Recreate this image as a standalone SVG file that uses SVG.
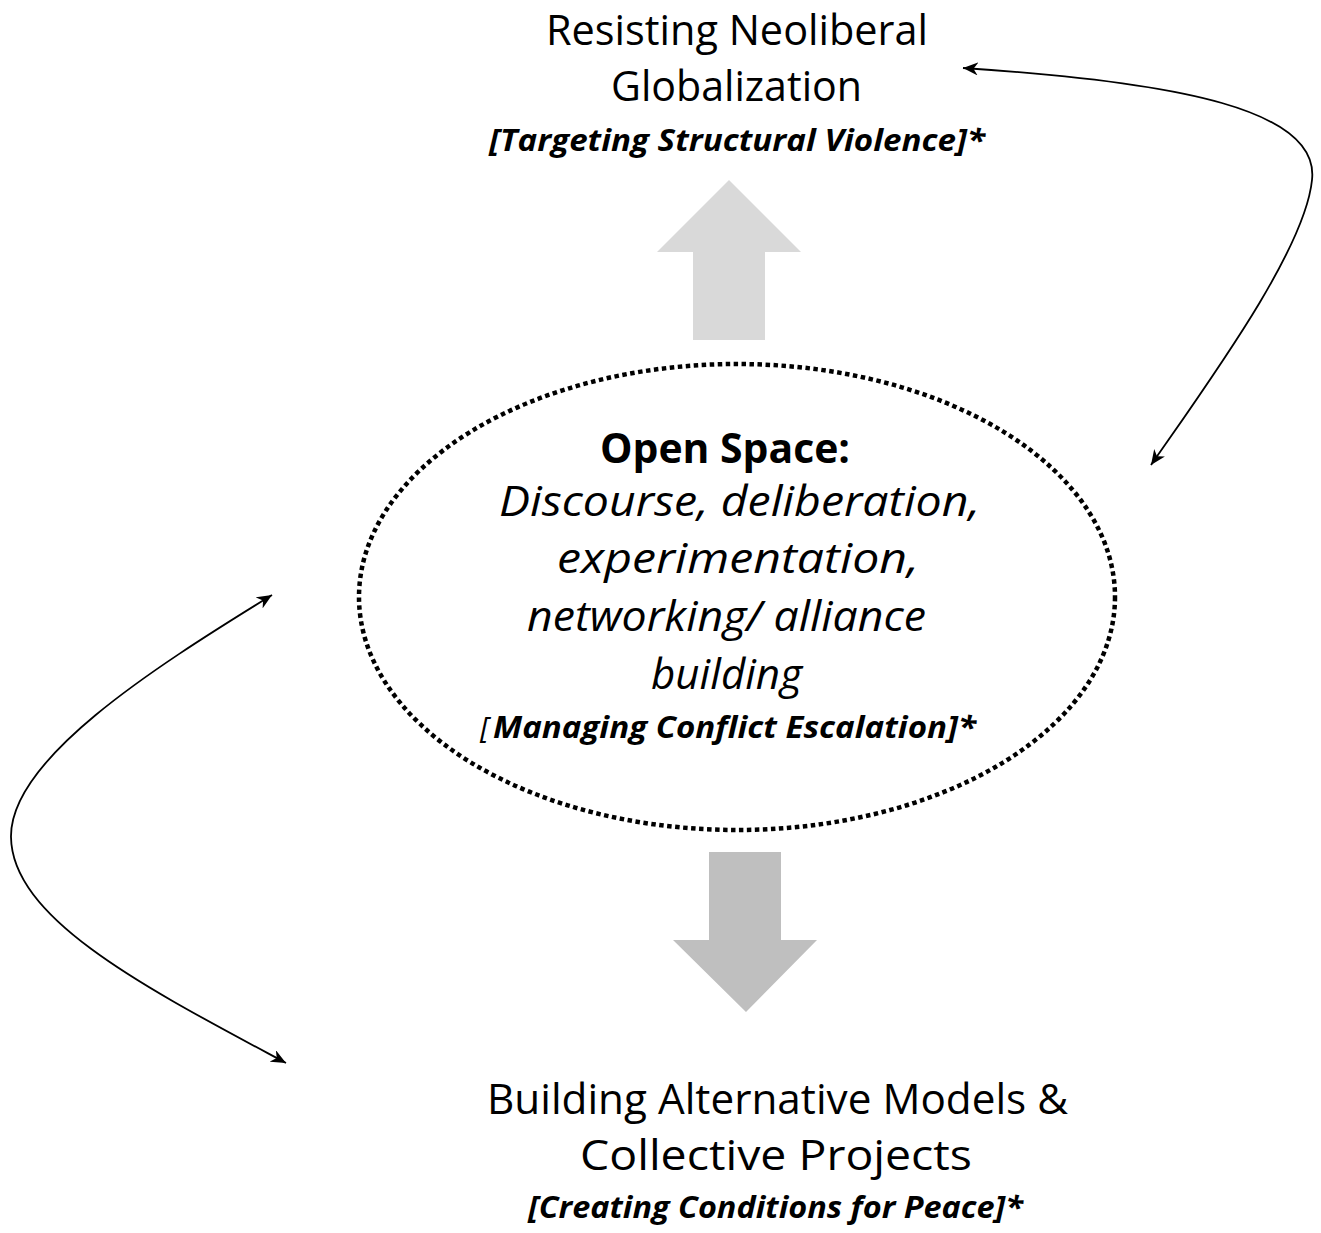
<svg xmlns="http://www.w3.org/2000/svg" width="1321" height="1233" viewBox="0 0 1321 1233">
  <style>
    text { font-family: "Open Sans", "Liberation Sans", sans-serif; fill: #000; }
    .big { font-size: 42px; }
    .it { font-style: italic; }
    .bold { font-weight: bold; }
    .tag { font-size: 30px; font-weight: bold; font-style: italic; }
    .conn { fill: none; stroke: #000; stroke-width: 1.8; }
  </style>
  <defs>
    <marker id="head" viewBox="0 0 15 13" refX="15" refY="6.5" markerWidth="15" markerHeight="13" markerUnits="userSpaceOnUse" orient="auto-start-reverse">
      <path d="M0,0 L15,6.5 L0,13 L4.5,6.5 z" fill="#000"/>
    </marker>
  </defs>

  <rect width="1321" height="1233" fill="#fff"/>

  <!-- top outcome -->
  <g id="node-resisting">
    <text class="big" x="546" y="45" textLength="382" lengthAdjust="spacingAndGlyphs">Resisting Neoliberal</text>
    <text class="big" x="611" y="101" textLength="251" lengthAdjust="spacingAndGlyphs">Globalization</text>
    <text class="tag" x="489" y="151" textLength="496" lengthAdjust="spacingAndGlyphs">[Targeting Structural Violence]*</text>
  </g>

  <!-- upward block arrow -->
  <g id="arrow-up">
    <polygon points="729,180 801,252 765,252 765,340 693,340 693,252 657,252" fill="#d9d9d9"/>
  </g>

  <!-- central open space -->
  <g id="node-open-space">
    <ellipse cx="737" cy="597" rx="378" ry="233" fill="none" stroke="#000" stroke-width="4.5" stroke-dasharray="4.5 3.5"/>
    <text class="big bold" x="600" y="463" textLength="250" lengthAdjust="spacingAndGlyphs">Open Space:</text>
    <text class="big it" x="499" y="516" textLength="481" lengthAdjust="spacingAndGlyphs">Discourse, deliberation,</text>
    <text class="big it" x="557" y="573" textLength="362" lengthAdjust="spacingAndGlyphs">experimentation,</text>
    <text class="big it" x="527" y="631" textLength="399" lengthAdjust="spacingAndGlyphs">networking/ alliance</text>
    <text class="big it" x="651" y="689" textLength="151" lengthAdjust="spacingAndGlyphs">building</text>
    <text y="738" style="font-size:30px"><tspan class="it" x="480">[</tspan><tspan class="tag" x="493" textLength="483" lengthAdjust="spacingAndGlyphs">Managing Conflict Escalation]*</tspan></text>
  </g>

  <!-- downward block arrow -->
  <g id="arrow-down">
    <polygon points="709,852 781,852 781,940 817,940 746,1012 673,940 709,940" fill="#bfbfbf"/>
  </g>

  <!-- bottom outcome -->
  <g id="node-building">
    <text class="big" x="487" y="1114" textLength="581" lengthAdjust="spacingAndGlyphs">Building Alternative Models &amp;</text>
    <text class="big" x="580" y="1170" textLength="392" lengthAdjust="spacingAndGlyphs">Collective Projects</text>
    <text class="tag" x="528" y="1218" textLength="495" lengthAdjust="spacingAndGlyphs">[Creating Conditions for Peace]*</text>
  </g>

  <!-- two-way feedback connectors -->
  <g id="connectors">
    <path class="conn" d="M963,68 C1180,82 1320,110 1312,180 C1305,250 1210,380 1151,465" marker-start="url(#head)" marker-end="url(#head)"/>
    <path class="conn" d="M272,595 C150,670 10,760 11,837 C12,920 150,990 286,1063" marker-start="url(#head)" marker-end="url(#head)"/>
  </g>
</svg>
